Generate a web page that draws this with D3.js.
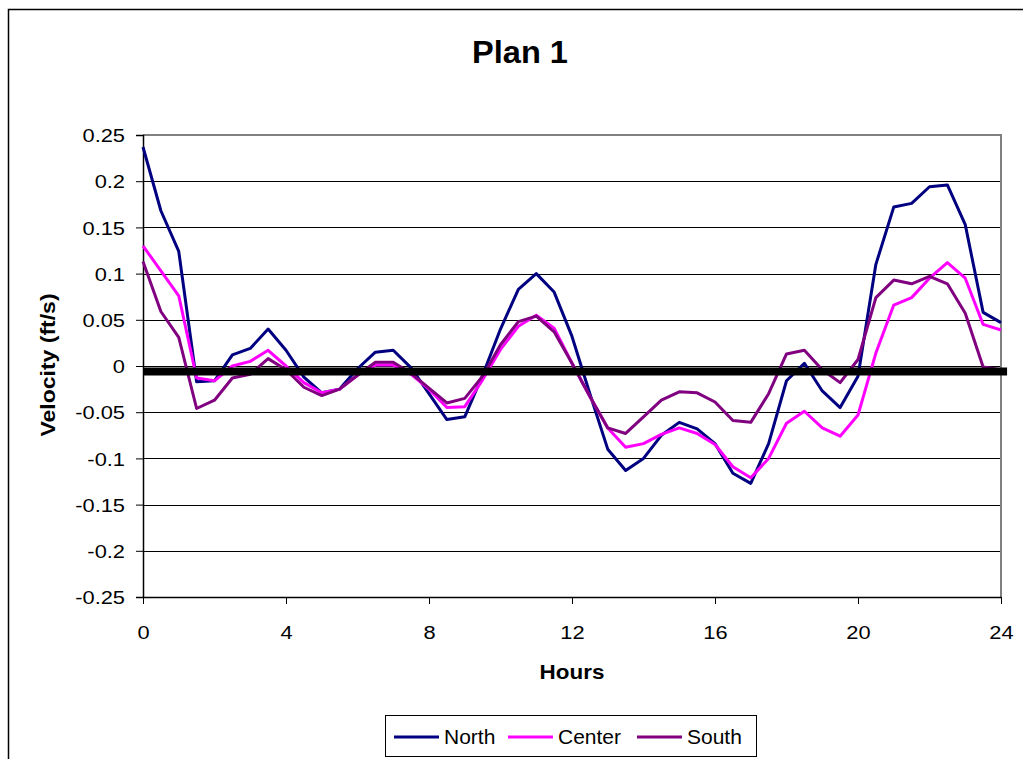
<!DOCTYPE html>
<html>
<head>
<meta charset="utf-8">
<script src="https://cdn.jsdelivr.net/npm/d3@7"></script>
<style>
  body { margin: 0; background: #fff; }
  svg { display: block; font-family: "Liberation Sans", Arial, sans-serif; }
</style>
</head>
<body>
<svg id="chart" width="1023" height="759"></svg>
<script>
const hours = [0,0.5,1,1.5,2,2.5,3,3.5,4,4.5,5,5.5,6,6.5,7,7.5,8,8.5,9,9.5,10,10.5,11,11.5,12,12.5,13,13.5,14,14.5,15,15.5,16,16.5,17,17.5,18,18.5,19,19.5,20,20.5,21,21.5,22,22.5,23,23.5,24];

const north = [0.237,0.168,0.124,-0.017,-0.016,0.012,0.019,0.040,0.017,-0.012,-0.029,-0.025,-0.003,0.015,0.017,-0.002,-0.030,-0.058,-0.055,-0.010,0.040,0.083,0.100,0.080,0.032,-0.030,-0.090,-0.113,-0.100,-0.075,-0.061,-0.068,-0.084,-0.116,-0.127,-0.084,-0.016,0.003,-0.027,-0.045,-0.011,0.110,0.172,0.176,0.194,0.196,0.153,0.058,0.047];

const center = [0.130,0.103,0.076,-0.013,-0.016,0.000,0.005,0.017,0.000,-0.018,-0.029,-0.025,-0.010,0.001,0.001,-0.009,-0.025,-0.045,-0.044,-0.015,0.018,0.043,0.055,0.041,0.003,-0.033,-0.067,-0.088,-0.084,-0.074,-0.067,-0.073,-0.085,-0.109,-0.121,-0.100,-0.062,-0.049,-0.067,-0.076,-0.053,0.014,0.066,0.074,0.095,0.112,0.095,0.045,0.039];

const south = [0.113,0.059,0.031,-0.046,-0.037,-0.013,-0.009,0.008,-0.004,-0.023,-0.032,-0.025,-0.010,0.004,0.004,-0.008,-0.024,-0.040,-0.035,-0.011,0.023,0.048,0.054,0.037,0.003,-0.033,-0.067,-0.073,-0.055,-0.037,-0.028,-0.029,-0.039,-0.059,-0.061,-0.030,0.013,0.017,-0.004,-0.018,0.007,0.074,0.093,0.089,0.097,0.089,0.057,-0.001,-0.004];

const seriesNames = ["North","Center","South"];
const seriesColors = ["#000080","#FF00FF","#800080"];

const xTicks = [0,4,8,12,16,20,24];
const yTicks = [0.25,0.2,0.15,0.1,0.05,0,-0.05,-0.1,-0.15,-0.2,-0.25];
const yTickLabels = ["0.25","0.2","0.15","0.1","0.05","0","-0.05","-0.1","-0.15","-0.2","-0.25"];

// thick black reference bar near zero
const refLineHours = [0, 24.17];
const refLineValue = -0.006;

const title = "Plan 1";
const xTitle = "Hours";
const yTitle = "Velocity (ft/s)";

const svg = d3.select("#chart");
const W = 1023, H = 759;
const plot = {left: 143, right: 1001, top: 135, bottom: 597};
const SX = 1.15;

const x = d3.scaleLinear().domain([0,24]).range([plot.left, plot.right]);
const y = d3.scaleLinear().domain([-0.25,0.25]).range([plot.bottom, plot.top]);

svg.append("rect").attr("width", W).attr("height", H).attr("fill", "#fff");

// outer chart frame
svg.append("rect").attr("x", 8.5).attr("y", 9.5).attr("width", W + 20).attr("height", H + 20)
  .attr("fill", "none").attr("stroke", "#000").attr("stroke-width", 1.5);

// title
svg.append("text").attr("transform", `translate(520,63) scale(1.05,1)`)
  .attr("text-anchor", "middle").attr("font-size", 31).attr("font-weight", "bold").text(title);

// gridlines
svg.append("g").selectAll("line").data(yTicks).join("line")
  .attr("x1", plot.left).attr("x2", plot.right)
  .attr("y1", d => Math.round(y(d)) + 0.5).attr("y2", d => Math.round(y(d)) + 0.5)
  .attr("stroke", "#000").attr("stroke-width", 1).attr("shape-rendering", "crispEdges");

// plot border (top/right gray)
svg.append("path")
  .attr("d", `M${plot.left},${plot.top} H${plot.right} V${plot.bottom}`)
  .attr("fill", "none").attr("stroke", "#808080").attr("stroke-width", 2);

// axes
const yAxis = d3.axisLeft(y).tickValues(yTicks).tickSize(7).tickPadding(0)
  .tickFormat((d, i) => yTickLabels[i]);
const gy = svg.append("g").attr("transform", `translate(${plot.left},0)`).call(yAxis);
gy.select(".domain").attr("stroke", "#000").attr("stroke-width", 1.5);
gy.selectAll(".tick line").attr("stroke", "#000");
gy.selectAll(".tick text").attr("x", -18 / SX).attr("dy", "0.35em")
  .attr("transform", `scale(${SX},1)`)
  .attr("font-size", 19).attr("fill", "#000").attr("font-family", "Liberation Sans, Arial, sans-serif");

const xAxis = d3.axisBottom(x).tickValues(xTicks).tickSize(7).tickSizeOuter(0).tickFormat(d3.format("d"));
const gx = svg.append("g").attr("transform", `translate(0,${plot.bottom})`).call(xAxis);
gx.select(".domain").attr("stroke", "#000").attr("stroke-width", 1.5);
gx.selectAll(".tick line").attr("stroke", "#000");
gx.selectAll(".tick text").attr("y", 42).attr("dy", 0)
  .attr("transform", `scale(${SX},1)`)
  .attr("font-size", 19).attr("fill", "#000").attr("font-family", "Liberation Sans, Arial, sans-serif");

// axis titles
svg.append("text").attr("transform", `translate(${(plot.left + plot.right) / 2},679) scale(${SX},1)`)
  .attr("text-anchor", "middle").attr("font-size", 19.5).attr("font-weight", "bold").text(xTitle);
svg.append("text").attr("transform", `translate(55,365) rotate(-90) scale(${SX},1)`)
  .attr("text-anchor", "middle").attr("font-size", 20).attr("font-weight", "bold").text(yTitle);

// series
const line = d3.line().x(d => x(d[0])).y(d => y(d[1]));
const seriesData = [north, center, south];
seriesData.forEach((vals, i) => {
  svg.append("path")
    .datum(hours.map((h, j) => [h, vals[j]]))
    .attr("d", line).attr("fill", "none")
    .attr("stroke", seriesColors[i]).attr("stroke-width", 3)
    .attr("stroke-linejoin", "round");
});

// thick reference bar
svg.append("path")
  .datum(refLineHours.map(h => [h, refLineValue]))
  .attr("d", line).attr("fill", "none").attr("stroke", "#000").attr("stroke-width", 8);

// legend
const lg = svg.append("g");
lg.append("rect").attr("x", 385.5).attr("y", 715.5).attr("width", 371).attr("height", 41)
  .attr("fill", "#fff").attr("stroke", "#000").attr("stroke-width", 1);
const legendX = [394, 508, 637];
seriesNames.forEach((name, i) => {
  lg.append("line").attr("x1", legendX[i]).attr("x2", legendX[i] + 45)
    .attr("y1", 737).attr("y2", 737).attr("stroke", seriesColors[i]).attr("stroke-width", 3);
  lg.append("text").attr("transform", `translate(${legendX[i] + 50},744) scale(1.05,1)`)
    .attr("font-size", 20).attr("fill", "#000").text(name);
});
</script>
</body>
</html>
